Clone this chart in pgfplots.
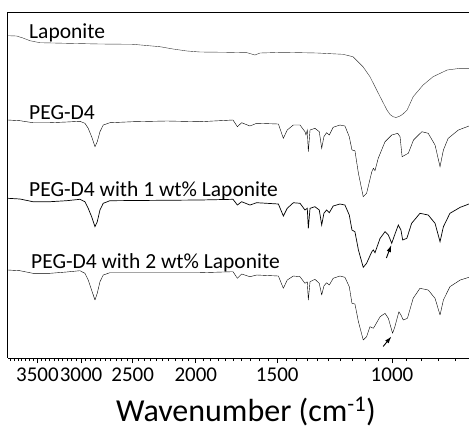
\documentclass[border=0pt]{standalone}
\usepackage{fontspec}
\setmainfont{Carlito}
\usepackage{pgfplots}
\pgfplotsset{compat=1.18}
\usetikzlibrary{arrows.meta}
\begin{document}
\begin{tikzpicture}[x=1pt,y=1pt]
\useasboundingbox (-8,-74) rectangle (461,358);
\begin{axis}[
  at={(0pt,0pt)}, anchor=south west,
  width=461pt, height=346pt, scale only axis,
  xmode=log, x dir=reverse, xmin=762, xmax=3884,
  y dir=reverse, ymin=12, ymax=358, ytick=\empty,
  axis x line*=box, axis y line*=left,
  axis line style={-, black, line width=1pt},
  xtick={1000,1500,2000,2500,3000,3500},
  xticklabels={1000,1500,2000,2500,3000,3500},
  minor xtick={800,850,...,3850},
  xtick pos=bottom, xtick align=outside,
  major tick length=5pt, minor tick length=3pt,
  tick style={black, line width=0.8pt},
  /pgf/number format/assume math mode=true,
  x tick label style={font=\fontsize{21}{21}\selectfont, yshift=-1pt},
  clip=true,
  cycle list={{black!80, no markers, line width=0.7pt, line join=round}},
]
% Laponite
\addplot coordinates {(3884,35.7)(3767,36)(3684,38)(3594,40.7)(3469,42.7)(3157,43.3)(2806,44)(2497,44.3)(2270,46.7)(2168,49)(2063,51)(1971,52)(1791,52.3)(1669,52.7)(1623,55)(1594,53)(1470,52.3)(1303,53)(1189,54.3)(1148,56.7)(1108,66.7)(1081,76.7)(1043,96.7)(1018,110)(1007,114.5)(996,116.7)(986,117.5)(972,116)(962,114)(948,110)(928,96.7)(896,85)(865,76.7)(823,70)(786,68.3)(762,68.3)};
% PEG-D4
\addplot coordinates {(3884,120)(3723,120.7)(3556,122.7)(3348,122.7)(3157,122)(3012,121.3)(2959,123.3)(2925,128.3)(2890,136.7)(2856,146.7)(2833,141.7)(2806,131.7)(2774,125)(2709,122.7)(2497,121.7)(2215,121)(1971,121.7)(1754,120)(1727,126.7)(1701,122.7)(1652,126)(1613,123.3)(1494,124)(1468,138.3)(1448,130)(1417,125)(1384,125)(1360,131.7)(1355,135)(1349,130)(1344,151.7)(1336,130)(1313,128.3)(1293,131.7)(1282,148.3)(1272,136.7)(1260,132.7)(1248,135)(1231,127.3)(1202,125)(1181,126)(1163,136.7)(1152,150)(1140,150.7)(1126,173.3)(1107,196.7)(1094,193.3)(1074,171.7)(1068,168.3)(1062,170.7)(1050,158.3)(1025,141.7)(1001,135)(980,133.3)(972,136.7)(965,156.7)(955,155)(944,153.3)(927,140)(900,131.7)(880,133.3)(859,145)(844,166.7)(834,150)(820,138.3)(791,130)(762,126)};
% PEG-D4 with 1 wt% Laponite
\addplot coordinates {(3884,198.3)(3723,199)(3556,201.7)(3348,201.7)(3157,200.7)(3012,199.3)(2959,201.7)(2925,208.3)(2890,216.7)(2856,226.7)(2833,221.7)(2806,210)(2774,203.3)(2709,200.7)(1971,200)(1754,199.3)(1727,205)(1701,201.7)(1652,205)(1613,202.7)(1494,204)(1468,216)(1448,208.3)(1417,202.7)(1384,203.3)(1360,210)(1349,208.3)(1344,228.3)(1336,208.3)(1313,206.7)(1293,210)(1282,225)(1272,213.3)(1260,210)(1248,212.7)(1231,206)(1202,204)(1181,205)(1163,215)(1152,230)(1140,231.7)(1126,250)(1107,267.3)(1094,263.3)(1074,251.7)(1068,250)(1062,252.7)(1043,238.3)(1025,231.7)(1013,235)(1001,243.3)(993,236.7)(978,225)(969,230)(963,240)(949,238.3)(933,223.3)(906,213.3)(880,215)(859,223.3)(844,241.7)(834,226.7)(815,213.3)(786,207.3)(762,204)};
% PEG-D4 with 2 wt% Laponite
\addplot coordinates {(3884,270)(3723,270.7)(3556,273.3)(3348,273.3)(3157,272)(3012,270.7)(2959,273.3)(2925,280)(2890,290)(2856,300)(2833,293.3)(2806,281.7)(2774,275)(2709,272.7)(1971,272.7)(1754,271.7)(1727,278.3)(1701,274)(1652,276.7)(1613,275)(1494,276)(1468,288.3)(1448,280)(1417,276)(1384,276.7)(1360,283.3)(1349,281.7)(1344,300)(1336,281.7)(1313,279.3)(1293,283.3)(1282,295)(1272,286)(1260,282.7)(1248,285)(1231,278.3)(1202,276)(1181,277.3)(1163,286.7)(1152,303.3)(1140,304)(1126,321.7)(1107,340)(1094,336.7)(1081,326.7)(1068,328.3)(1043,316.7)(1025,313.3)(1013,318.3)(998,333.3)(990,326.7)(976,311.7)(969,315)(961,320)(947,318.3)(928,298.3)(906,288.3)(880,290)(859,298.3)(844,315)(834,300)(815,286.7)(786,280)(762,277.3)};
% labels
\node[anchor=base west, inner sep=0pt, font=\fontsize{21.5}{21.5}\selectfont] at (axis cs:3606,38) {Laponite};
\node[anchor=base west, inner sep=0pt, font=\fontsize{21.5}{21.5}\selectfont] at (axis cs:3606,119.5) {PEG-D4};
\node[anchor=base west, inner sep=0pt, font=\fontsize{21.5}{21.5}\selectfont] at (axis cs:3606,196) {PEG-D4 with 1 wt\% Laponite};
\node[anchor=base west, inner sep=0pt, font=\fontsize{21.5}{21.5}\selectfont] at (axis cs:3581,268.5) {PEG-D4 with 2 wt\% Laponite};
% arrows
\draw[-{Latex[length=7pt,width=4.5pt]}, black, line width=0.9pt] (axis cs:1020,258) -- (axis cs:1002.5,245);
\draw[-{Latex[length=7pt,width=4.5pt]}, black, line width=0.9pt] (axis cs:1032,346.5) -- (axis cs:1002,336.5);
\end{axis}
\node[anchor=base, font=\fontsize{32}{32}\selectfont] at (238,-63) {Wavenumber (cm\textsuperscript{-1})};
\end{tikzpicture}
\end{document}
